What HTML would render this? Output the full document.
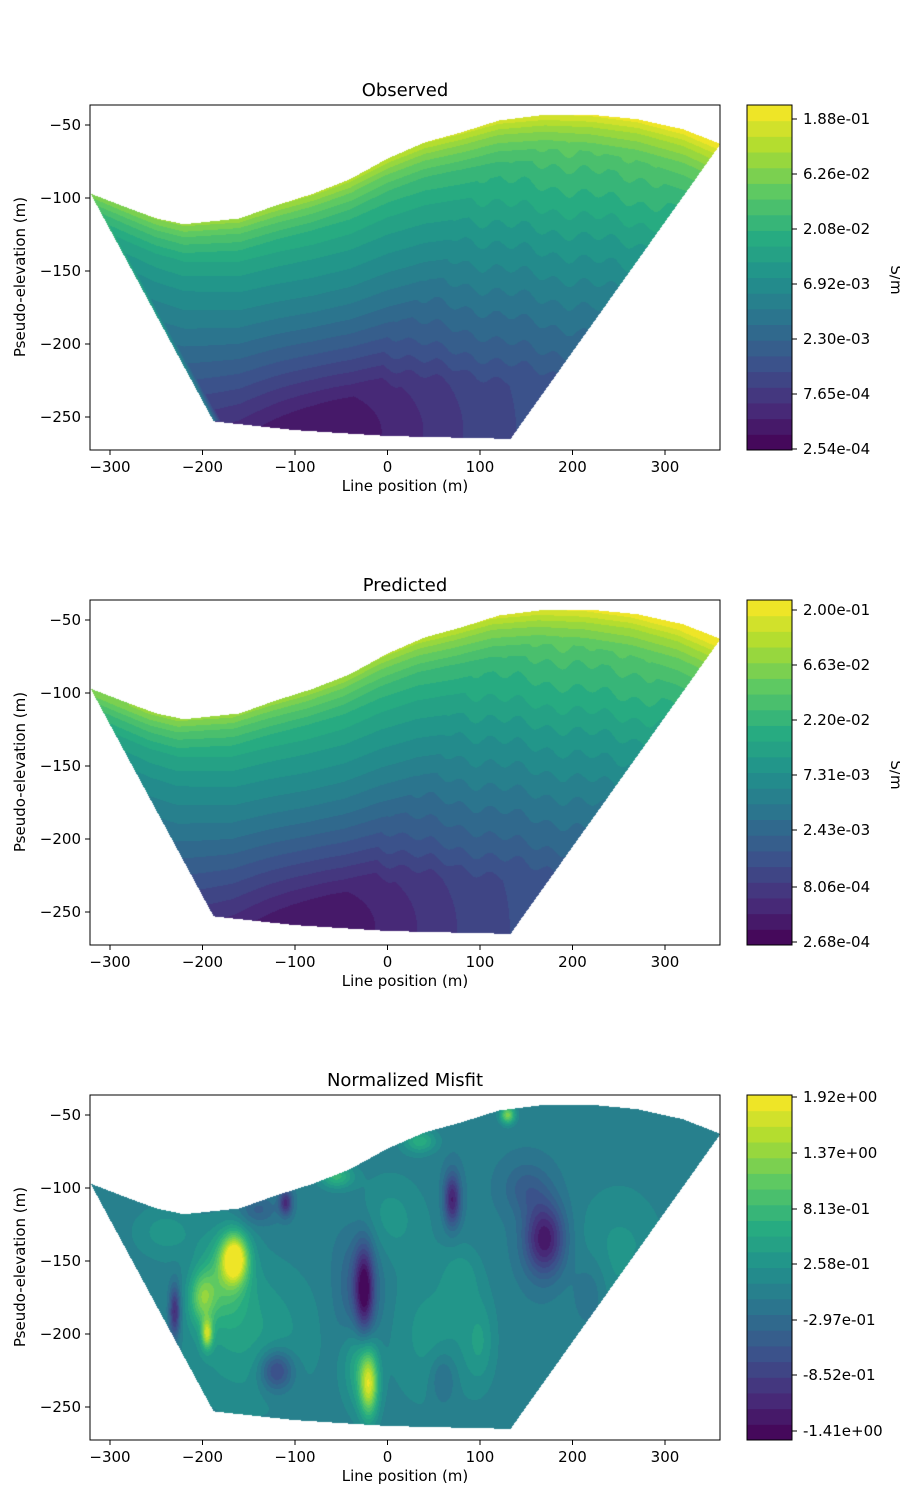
<!DOCTYPE html>
<html><head><meta charset="utf-8">
<style>
body{margin:0;background:#fff;}
#cv{position:absolute;left:0;top:0;}
#s{position:absolute;left:0;top:0;}
svg text{font-family:"DejaVu Sans","Liberation Sans",sans-serif;font-size:15px;fill:#000;}
</style></head>
<body>
<canvas id="cv" width="900" height="1500"></canvas>
<svg id="s" width="900" height="1500" xmlns="http://www.w3.org/2000/svg">
<g id="plots"></g>
<g>
<text x="405" y="96" text-anchor="middle" style="font-size:18px">Observed</text>
<text x="405" y="591" text-anchor="middle" style="font-size:18px">Predicted</text>
<text x="405" y="1086" text-anchor="middle" style="font-size:18px">Normalized Misfit</text>

<g text-anchor="middle">
<text x="110" y="472">−300</text><text x="202.5" y="472">−200</text><text x="295" y="472">−100</text><text x="387.5" y="472">0</text><text x="480" y="472">100</text><text x="572.5" y="472">200</text><text x="665" y="472">300</text>
<text x="405" y="491">Line position (m)</text>
<text x="110" y="967">−300</text><text x="202.5" y="967">−200</text><text x="295" y="967">−100</text><text x="387.5" y="967">0</text><text x="480" y="967">100</text><text x="572.5" y="967">200</text><text x="665" y="967">300</text>
<text x="405" y="986">Line position (m)</text>
<text x="110" y="1462">−300</text><text x="202.5" y="1462">−200</text><text x="295" y="1462">−100</text><text x="387.5" y="1462">0</text><text x="480" y="1462">100</text><text x="572.5" y="1462">200</text><text x="665" y="1462">300</text>
<text x="405" y="1481">Line position (m)</text>
</g>
<g text-anchor="end">
<text x="81" y="130">−50</text><text x="81" y="203">−100</text><text x="81" y="276">−150</text><text x="81" y="349">−200</text><text x="81" y="422">−250</text>
<text x="81" y="625">−50</text><text x="81" y="698">−100</text><text x="81" y="771">−150</text><text x="81" y="844">−200</text><text x="81" y="917">−250</text>
<text x="81" y="1120">−50</text><text x="81" y="1193">−100</text><text x="81" y="1266">−150</text><text x="81" y="1339">−200</text><text x="81" y="1412">−250</text>
</g>
<text transform="translate(25,277) rotate(-90)" text-anchor="middle">Pseudo-elevation (m)</text>
<text transform="translate(25,772) rotate(-90)" text-anchor="middle">Pseudo-elevation (m)</text>
<text transform="translate(25,1267) rotate(-90)" text-anchor="middle">Pseudo-elevation (m)</text>

<g>
<text x="803" y="124">1.88e-01</text><text x="803" y="179">6.26e-02</text><text x="803" y="234">2.08e-02</text><text x="803" y="289">6.92e-03</text><text x="803" y="344">2.30e-03</text><text x="803" y="399">7.65e-04</text><text x="803" y="454">2.54e-04</text>
<text x="803" y="615">2.00e-01</text><text x="803" y="670">6.63e-02</text><text x="803" y="725">2.20e-02</text><text x="803" y="780">7.31e-03</text><text x="803" y="835">2.43e-03</text><text x="803" y="892">8.06e-04</text><text x="803" y="947">2.68e-04</text>
<text x="803" y="1102">1.92e+00</text><text x="803" y="1158">1.37e+00</text><text x="803" y="1214">8.13e-01</text><text x="803" y="1269">2.58e-01</text><text x="803" y="1325">-2.97e-01</text><text x="803" y="1380">-8.52e-01</text><text x="803" y="1436">-1.41e+00</text>
</g>
<text transform="translate(891,280) rotate(90)" text-anchor="middle">S/m</text>
<text transform="translate(891,775) rotate(90)" text-anchor="middle">S/m</text>
</g>
</svg>
<script>
(function(){
var NS="http://www.w3.org/2000/svg";
var vir=["#440154","#472d7b","#3b528b","#2c728e","#21918c","#28ae80","#5ec962","#addc30","#fde725"];
function hx(c){return [parseInt(c.substr(1,2),16),parseInt(c.substr(3,2),16),parseInt(c.substr(5,2),16)];}
var VH=vir.map(hx);
function Vr(t){t=Math.max(0,Math.min(1,t));var f=t*8,i=Math.min(7,Math.floor(f)),u=f-i;var a=VH[i],b=VH[i+1];
return [0,1,2].map(function(k){return Math.round(a[k]+(b[k]-a[k])*u);});}
function V(t){return "rgb("+Vr(t).join(",")+")";}
function el(n,a,p){var e=document.createElementNS(NS,n);for(var k in a)e.setAttribute(k,a[k]);p.appendChild(e);return e;}
var G=document.getElementById("plots");
var top=[[-321,-97],[-280,-107],[-250,-114],[-220,-118],[-160,-114],[-120,-105],[-80,-97],[-40,-87],[0,-73],[40,-62],[80,-55],[120,-47],[170,-43],[220,-43],[270,-46],[320,-53],[360,-63]];
function interp(a,x){for(var i=0;i<a.length-1;i++){if(x<=a[i+1][0]){var p=a[i],q=a[i+1];return p[1]+(q[1]-p[1])*(x-p[0])/(q[0]-p[0]);}}return a[a.length-1][1];}
var botL=[[-321,-97],[-188,-253]],bot=[[-188,-253],[-100,-259],[0,-263],[133,-265]],botR=[[133,-265],[360,-63]];
function bottom(x){if(x<-188)return interp(botL,x);if(x>133)return interp(botR,x);return interp(bot,x);}
function PX(x){return 387.5+x*0.925;}
function PY(v,y0){return y0+(-36.3-v)*1.46;}
function lin(tab,v){if(v<=tab[0][0])return tab[0][1];for(var i=0;i<tab.length-1;i++){if(v<=tab[i+1][0]){var a=tab[i],b=tab[i+1];return a[1]+(b[1]-a[1])*(v-a[0])/(b[0]-a[0]);}}return tab[tab.length-1][1];}
var fe=[[-268,0.04],[-255,0.1],[-230,0.19],[-205,0.27],[-180,0.33],[-155,0.4],[-130,0.47],[-105,0.55],[-80,0.62],[-60,0.7],[-45,0.78]];
var gd=[[0,0.9],[10,0.78],[25,0.66],[45,0.57],[80,0.45],[150,0.2]];
function obsT(x,v){
 var s=v+3*Math.sin(x*0.2)+2*Math.sin(x*0.07+1);
 var t=lin(fe,s);
 var d=interp(top,x)-v;
 t=Math.max(t,lin(gd,d));
 t+=0.0003*x;
 var dx=(x+50)/130,dy=(v+260)/55; t-=0.12*Math.exp(-(dx*dx+dy*dy));
 var xl=x-( -321+( -188+321)*( (-97-v)/156));
 if(v<-97&&v>-253&&xl<10) t=Math.max(t,0.72-xl*0.03-(-97-v)*0.002);
 return t;
}
var bl=[[-150,-200,70,50,0.55],[50,-200,50,50,0.52],[250,-150,50,50,0.52],[-240,-130,35,18,0.52],[0,-120,40,30,0.52],
 [-165,-148,14,16,0.95],[-175,-160,25,30,0.65],[-200,-175,14,18,0.7],[-195,-200,6,10,0.8],[-20,-235,10,22,0.85],[-30,-220,18,30,0.62],
 [-55,-92,18,8,0.65],[35,-68,18,8,0.62],[130,-50,8,6,0.8],[-25,-170,10,30,0.08],[70,-108,9,18,0.08],[170,-135,22,25,0.05],
 [-110,-110,7,9,0.12],[-120,-225,18,14,0.15],[-30,-170,24,45,0.27],[280,-175,18,18,0.15],[100,-205,16,30,0.52],[-230,-185,6,18,0.1],[60,-230,14,18,0.3],[150,-100,25,18,0.3],[220,-170,20,25,0.33],[-140,-115,20,10,0.3],[80,-160,20,20,0.5]];
function misT(x,v){var t=0.42;bl.forEach(function(b){var dx=(x-b[0])/b[2],dy=(v-b[1])/b[3];t+=(b[4]-0.42)*Math.exp(-(dx*dx+dy*dy));});return t;}
var cv=document.getElementById("cv"),ctx=cv.getContext("2d");
var img=ctx.createImageData(900,1500),D=img.data;
for(var i=0;i<D.length;i++)D[i]=255;
var N=22;
for(var p=0;p<3;p++){
 var y0=105+495*p;
 for(var px=90;px<720;px++){
  var x=(px+0.5-387.5)/0.925;var tv=interp(top,x),bv=bottom(x);
  for(var py=y0;py<y0+345;py++){
   var v=-36.3-(py+0.5-y0)/1.46;
   if(v>tv||v<bv)continue;
   var t=p<2?obsT(x+(p==1?7:0),v):misT(x,v);
   t=Math.max(0,Math.min(0.999,t));t=(Math.floor(t*N)+0.5)/N;
   var c=Vr(t),o=(py*900+px)*4;D[o]=c[0];D[o+1]=c[1];D[o+2]=c[2];D[o+3]=255;
  }
 }
}
ctx.putImageData(img,0,0);
for(var p=0;p<3;p++){
 var y0=105+495*p;
 el("rect",{x:90,y:y0,width:630,height:345,fill:"none",stroke:"#000","stroke-width":1},G);
 [-300,-200,-100,0,100,200,300].forEach(function(x){el("line",{x1:PX(x),x2:PX(x),y1:y0+345,y2:y0+350,stroke:"#000"},G);});
 [-50,-100,-150,-200,-250].forEach(function(v){el("line",{x1:85,x2:90,y1:PY(v,y0),y2:PY(v,y0),stroke:"#000"},G);});
 var n=22,h=345/n;
 for(var i=0;i<n;i++){el("rect",{x:747,y:y0+345-(i+1)*h,width:45,height:h+0.5,fill:V((i+0.5)/n)},G);}
 el("rect",{x:747,y:y0,width:45,height:345,fill:"none",stroke:"#000"},G);
 var offs=p==0?[14,69,124,179,234,289,344]:p==1?[10,65,120,175,230,287,342]:[2,58,114,169,225,280,336];
 offs.forEach(function(o){el("line",{x1:792,x2:797,y1:y0+o,y2:y0+o,stroke:"#000"},G);});
}
})();
</script>
</body></html>
